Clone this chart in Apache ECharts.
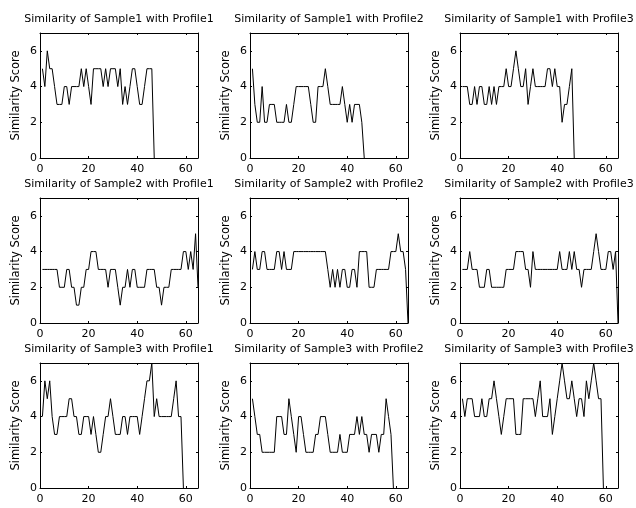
<!DOCTYPE html>
<html>
<head>
<meta charset="utf-8">
<script src="https://cdn.jsdelivr.net/npm/echarts@6/dist/echarts.min.js"></script>
<style>
  html, body { margin: 0; padding: 0; background: #fff; }
  #chart { width: 636px; height: 508px; }
</style>
</head>
<body>
<div id="chart"></div>
<script>
const samples = ['Sample1', 'Sample2', 'Sample3'];
const profiles = ['Profile1', 'Profile2', 'Profile3'];
const xTicks = [0, 20, 40, 60];
const yTicks = [0, 2, 4, 6];

// similarity scores, one value per position (x = 1, 2, 3 ...)
const s1p1 = [5,4,6,5,5,4,3,3,3,4, 4,3,4,4,4,4,5,4,5,4, 3,5,5,5,5,4,5,4,5,5, 5,4,5,3,4,3,4,5,5,4, 3,3,4,5,5,5,0];
const s1p2 = [5,3,2,2,4,2,2,3,3,3, 2,2,2,2,3,2,2,3,4,4, 4,4,4,4,3,2,2,4,4,4, 5,4,3,3,3,3,3,4,3,2, 3,2,3,3,3,2,0];
const s1p3 = [4,4,4,3,3,4,3,4,4,3, 3,4,3,4,3,4,4,4,5,4, 4,5,6,5,4,4,5,3,4,5, 4,4,4,4,4,5,5,4,5,4, 4,2,3,3,4,5,0];

const s2p1 = [3,3,3,3,3,3,3,2,2,2, 3,3,2,2,1,1,2,2,3,3, 4,4,4,3,3,3,3,2,3,3, 3,2,1,2,2,3,2,3,3,2, 2,2,2,3,3,3,3,2,2,1, 2,2,2,3,3,3,3,3,4,4, 3,4,3,5,2];
const s2p2 = [3,4,3,3,4,4,3,3,3,3, 4,4,3,4,3,3,3,4,4,4, 4,4,4,4,4,4,4,4,4,4, 4,3,2,3,2,3,2,3,3,2, 2,3,3,2,4,4,4,4,2,2, 2,3,3,3,3,3,3,4,4,4, 5,4,4,3,0];
const s2p3 = [3,3,3,4,3,3,3,2,2,2, 3,3,2,2,2,2,2,2,3,3, 3,3,4,4,4,4,3,3,2,4, 3,3,3,3,3,3,3,3,3,3, 4,3,3,3,4,3,4,3,3,2, 3,3,3,3,4,5,4,3,3,3, 4,4,3,4,0];

const s3p1 = [4,6,5,6,4,3,3,4,4,4, 4,5,5,4,4,3,3,4,4,4, 3,4,3,2,2,3,4,4,5,4, 3,3,3,4,4,3,4,4,4,4, 3,4,5,6,6,7,4,5,4,4, 4,4,4,4,5,6,4,4,0];
const s3p2 = [5,4,3,3,2,2,2,2,2,2, 4,4,4,3,3,5,4,3,2,4, 4,3,2,2,2,2,3,3,4,4, 4,3,2,2,2,2,3,2,2,2, 3,3,3,4,3,4,3,3,2,3, 3,3,2,3,3,5,4,3,0];
const s3p3 = [5,4,5,5,5,4,4,4,5,4, 4,5,5,6,5,4,3,4,5,5, 5,5,3,3,3,5,5,5,5,5, 4,5,6,4,4,4,5,3,4,5, 6,7,6,5,5,6,5,4,5,5, 4,6,5,6,7,6,5,5,0];

const scores = [
    [s1p1, s1p2, s1p3],
    [s2p1, s2p2, s2p3],
    [s3p1, s3p2, s3p3]
];

const chart = echarts.init(document.getElementById('chart'));

const FONT = 'DejaVu Sans';
const lefts = [40, 250, 460];
const tops = [33, 198, 363];
const W = 158, H = 125;

const black = { color: '#000', width: 1 };

const grids = [], xAxes = [], yAxes = [], titles = [], series = [];

samples.forEach((sample, r) => {
    profiles.forEach((profile, c) => {
        const k = r * 3 + c;
        grids.push({ left: lefts[c], top: tops[r], width: W, height: H, show: false });

        titles.push({
            text: 'Similarity of ' + sample + ' with ' + profile,
            left: lefts[c] + W / 2,
            top: tops[r] - 19,
            textAlign: 'center',
            padding: 0,
            textStyle: { color: '#000', fontSize: 11, fontWeight: 'normal', fontFamily: FONT }
        });

        ['bottom', 'top'].forEach(pos => {
            xAxes.push({
                gridIndex: k,
                type: 'value',
                position: pos,
                min: 0,
                max: 65,
                axisLine: { show: true, onZero: false, lineStyle: black },
                axisTick: { show: true, inside: true, length: 2, customValues: xTicks, lineStyle: black },
                axisLabel: {
                    show: pos === 'bottom', customValues: xTicks, margin: 6,
                    color: '#000', fontSize: 11, fontFamily: FONT
                },
                splitLine: { show: false }
            });
        });

        ['left', 'right'].forEach(pos => {
            yAxes.push({
                gridIndex: k,
                type: 'value',
                position: pos,
                min: 0,
                max: 7,
                name: pos === 'left' ? 'Similarity Score' : '',
                nameLocation: 'middle',
                nameGap: 18,
                nameTextStyle: { color: '#000', fontSize: 11.5, fontFamily: FONT },
                axisLine: { show: true, onZero: false, lineStyle: black },
                axisTick: { show: true, inside: true, length: 2, customValues: yTicks, lineStyle: black },
                axisLabel: {
                    show: pos === 'left', customValues: yTicks, margin: 3,
                    color: '#000', fontSize: 11, fontFamily: FONT
                },
                splitLine: { show: false }
            });
        });

        series.push({
            type: 'line',
            xAxisIndex: 2 * k,
            yAxisIndex: 2 * k,
            data: scores[r][c].map((v, i) => [i + 1, v]),
            symbol: 'none',
            lineStyle: black,
            silent: true
        });
    });
});

chart.setOption({
    animation: false,
    backgroundColor: '#fff',
    title: titles,
    grid: grids,
    xAxis: xAxes,
    yAxis: yAxes,
    series: series
});
</script>
</body>
</html>
